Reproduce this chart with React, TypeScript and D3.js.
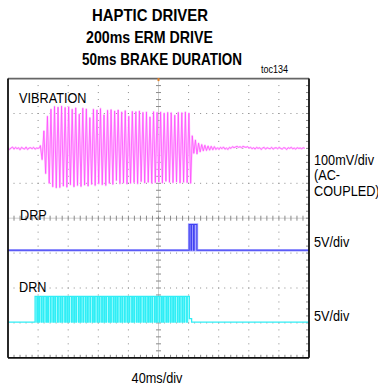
import React from 'react';
import * as d3 from 'd3';

const W = 378;
const H = 387;

// ---------- text ----------
const titleLines = ['HAPTIC DRIVER', '200ms ERM DRIVE', '50ms BRAKE DURATION'];
const docId = 'toc134';
const timeScaleLabel = '40ms/div';
const channelNames = ['VIBRATION', 'DRP', 'DRN'];
const channelScaleLabels = [['100mV/div', '(AC-', 'COUPLED)'], ['5V/div'], ['5V/div']];

// ---------- axes ----------
const timeDomainMs = [0, 400];
const xDivisions = 10;
const yDivisions = 8;
const minorPerDiv = 5;

// ---------- VIBRATION (mV, AC coupled, 100mV/div) ----------
const vibPreStepMs = 2;
const vibPreNoise = [2, -3, 1, 4, -2, 3, -1, 2, -4, 3, 0, -2, 4, -3, 1, 2, -1, 3, -2, 1, 0, 2];
const vibDriveStartMs = 43;
const vibDriveHalfPeriodMs = 2.35;
const vibDrivePeaks = [
  8, -32, 50, -72, 92, -100, 112, -110, 120, -113, 118, -112, 121, -108, 117, -111,
  119, -104, 112, -110, 116, -106, 98, -109, 115, -105, 113, -108, 88, -103, 112, -106,
  110, -101, 114, -104, 96, -106, 109, -100, 111, -103, 107, -92, 110, -101, 104, -99,
  108, -102, 92, -100, 106, -98, 105, -101, 107, -95, 103, -99, 104, -97, 90, -100,
  105, -98, 103, -96, 104, -99, 101, -94, 103, -97, 102, -98, 95, -96, 103, -99,
  102, -97, 104, -98, 101, -100,
];
const vibRingHalfPeriodMs = 2.1;
const vibRingPeaks = [36, -14, 24, -16, 15, -10, 11, -7, 9, -6, 7, -5, 6, -4, 5, -3];
const vibPostStepMs = 2;
const vibPostNoise = [
  2, -3, 3, -1, 4, -2, 1, -3, 3, 0, 5, 2, 4, 6, 3, 5, 2, 6, 4, 3,
  5, 1, 3, -1, 2, -2, 3, 0, 2, -3, 1, 3, -2, 2, 0, -1, 3, -2, 1, 2,
  -1, 3, 0, -2, 2, 1, -3, 2, 0, 3, -1, 1, -2, 2, 0, 1, -1, 2, 0,
];

// ---------- DRP (V, 5V/div) ----------
const drpLowV = 0.4;
const drpHighV = 4.1;
const drpPulsesMs = [[240.8, 243.2], [244.0, 246.6], [247.4, 251.0]];

// ---------- DRN (V, 5V/div) ----------
const drnLowV = 0.1;
const drnHighV = 3.8;
const drnOnMs = 36;
const drnOffMs = 241;
const drnShelfV = 0.6;
const drnShelfEndMs = 244;
const drnDipWidthMs = 0.7;
const drnDipsMs = [
  38.5, 41, 44.2, 47, 50.5, 53, 56.4, 59.8, 62.5, 66, 69.2, 72, 75.5, 78.3, 81, 84.6,
  87.5, 90.2, 93.8, 96.5, 99.7, 103, 105.8, 109, 112.4, 115, 118.5, 121.3, 124.6, 127.5,
  130.2, 133.8, 136.5, 139.9, 142.7, 145.5, 149, 151.8, 155, 158.3, 161, 164.5, 167.2,
  170.6, 173.4, 176.1, 179.7, 182.5, 185.8, 188.6, 191.4, 194.9, 197.6, 200.8, 203.9,
  206.5, 210, 212.7, 216, 219, 221.8, 225.2, 228, 231.3, 234.1, 237.5,
];

// channel vertical placement (divisions from screen center) and units/div
const vibOffsetDiv = 2;
const vibPerDiv = 100;
const drpOffsetDiv = -1;
const drpPerDiv = 5;
const drnOffsetDiv = -3;
const drnPerDiv = 5;

const FONT = '"Liberation Sans", Arial, sans-serif';
const NARROW = 0.82;

function NText(props: {
  x: number; y: number; size: number; bold?: boolean; anchor?: string; children: React.ReactNode;
}) {
  const { x, y, size, bold, anchor, children } = props;
  return (
    <text
      transform={`translate(${x},${y}) scale(${NARROW},1)`}
      fontFamily={FONT}
      fontSize={size}
      fontWeight={bold ? 'bold' : 'normal'}
      textAnchor={anchor || 'start'}
      fill="#000"
    >
      {children}
    </text>
  );
}

export default function App() {
  const plot = { left: 8, right: 309, top: 78.6, bottom: 357.8 };
  const x = d3.scaleLinear().domain(timeDomainMs).range([plot.left, plot.right]);
  const yDiv = d3.scaleLinear().domain([yDivisions / 2, -yDivisions / 2]).range([plot.top, plot.bottom]);
  const yVib = (v: number) => yDiv(vibOffsetDiv + v / vibPerDiv);
  const yDrp = (v: number) => yDiv(drpOffsetDiv + v / drpPerDiv);
  const yDrn = (v: number) => yDiv(drnOffsetDiv + v / drnPerDiv);

  // --- vibration points ---
  const vib: [number, number][] = [];
  vibPreNoise.forEach((v, i) => vib.push([i * vibPreStepMs, v]));
  vibDrivePeaks.forEach((v, i) => vib.push([vibDriveStartMs + i * vibDriveHalfPeriodMs, v]));
  const driveEnd = vibDriveStartMs + (vibDrivePeaks.length - 1) * vibDriveHalfPeriodMs;
  vibRingPeaks.forEach((v, i) => vib.push([driveEnd + (i + 1) * vibRingHalfPeriodMs, v]));
  const ringEnd = driveEnd + vibRingPeaks.length * vibRingHalfPeriodMs;
  vibPostNoise.forEach((v, i) => vib.push([ringEnd + (i + 1) * vibPostStepMs, v]));
  const vibLine = d3.line<[number, number]>().x((d) => x(d[0])).y((d) => yVib(d[1]));
  const vibD = vibLine(vib) || '';

  // --- DRP points ---
  const drp: [number, number][] = [[timeDomainMs[0], drpLowV]];
  drpPulsesMs.forEach(([a, b]) => {
    drp.push([a, drpLowV], [a, drpHighV], [b, drpHighV], [b, drpLowV]);
  });
  drp.push([timeDomainMs[1], drpLowV]);
  const drpLine = d3.line<[number, number]>().x((d) => x(d[0])).y((d) => yDrp(d[1]));
  const drpFill = d3
    .area<number>()
    .x((t) => x(t))
    .y0(yDrp(drpLowV))
    .y1(yDrp(drpHighV))([drpPulsesMs[0][0], drpPulsesMs[drpPulsesMs.length - 1][1]]);

  // --- DRN points ---
  const drn: [number, number][] = [[timeDomainMs[0], drnLowV], [drnOnMs, drnLowV], [drnOnMs, drnHighV]];
  drnDipsMs.forEach((d) => {
    drn.push([d, drnHighV], [d, drnLowV], [d + drnDipWidthMs, drnLowV], [d + drnDipWidthMs, drnHighV]);
  });
  drn.push([drnOffMs, drnHighV], [drnOffMs, drnShelfV], [drnShelfEndMs, drnShelfV], [drnShelfEndMs, drnLowV], [timeDomainMs[1], drnLowV]);
  const drnLine = d3.line<[number, number]>().x((d) => x(d[0])).y((d) => yDrn(d[1]));
  const drnFill = d3
    .area<number>()
    .x((t) => x(t))
    .y0(yDrn(drnLowV))
    .y1(yDrn(drnHighV))([drnOnMs, drnOffMs]);

  // --- grid ---
  const divW = (plot.right - plot.left) / xDivisions;
  const divH = (plot.bottom - plot.top) / yDivisions;
  const vLines = d3.range(1, xDivisions).filter((i) => i !== xDivisions / 2);
  const hLines = d3.range(1, yDivisions).filter((j) => j !== yDivisions / 2);
  const cx = plot.left + divW * (xDivisions / 2);
  const cy = plot.top + divH * (yDivisions / 2);
  const xMinor = d3.range(1, xDivisions * minorPerDiv).map((k) => plot.left + (k * divW) / minorPerDiv);
  const yMinor = d3.range(1, yDivisions * minorPerDiv).map((k) => plot.top + (k * divH) / minorPerDiv);

  return (
    <svg width={W} height={H} style={{ position: 'absolute', left: 0, top: 0, background: '#fff' }}>
      {/* titles */}
      <g fontFamily={FONT} fontWeight="bold" fill="#000" fontSize={16.5}>
        <text x={92} y={20.5} textLength={116} lengthAdjust="spacingAndGlyphs">{titleLines[0]}</text>
        <text x={86} y={42.5} textLength={127} lengthAdjust="spacingAndGlyphs">{titleLines[1]}</text>
        <text x={82} y={64.8} textLength={160} lengthAdjust="spacingAndGlyphs">{titleLines[2]}</text>
      </g>
      <NText x={261} y={73} size={11}>{docId}</NText>

      {/* grid dotted lines */}
      <g stroke="#8a8a8a" strokeWidth={1}>
        {vLines.map((i) => (
          <line key={'v' + i} x1={plot.left + i * divW} x2={plot.left + i * divW} y1={plot.top + divH / minorPerDiv - 0.5} y2={plot.bottom}
            strokeDasharray={`1 ${divH / minorPerDiv - 1}`} />
        ))}
        {hLines.map((j) => (
          <line key={'h' + j} y1={plot.top + j * divH} y2={plot.top + j * divH} x1={plot.left + divW / minorPerDiv - 0.5} x2={plot.right}
            strokeDasharray={`1 ${divW / minorPerDiv - 1}`} />
        ))}
      </g>
      {/* center cross with ticks */}
      <g stroke="#cfcfcf" strokeWidth={1}>
        <line x1={cx} x2={cx} y1={plot.top} y2={plot.bottom} />
        <line x1={plot.left} x2={plot.right} y1={cy} y2={cy} />
      </g>
      <g stroke="#8a8a8a" strokeWidth={1}>
        {yMinor.map((yy, k) => (
          <line key={'cy' + k} x1={cx - 2.5} x2={cx + 2.5} y1={yy} y2={yy} />
        ))}
        {xMinor.map((xx, k) => (
          <line key={'cx' + k} x1={xx} x2={xx} y1={cy - 2.5} y2={cy + 2.5} />
        ))}
        {xMinor.map((xx, k) => (
          <line key={'bx' + k} x1={xx} x2={xx} y1={plot.bottom - 3} y2={plot.bottom} />
        ))}
        {yMinor.map((yy, k) => (
          <line key={'ry' + k} x1={plot.right - 3} x2={plot.right} y1={yy} y2={yy} />
        ))}
      </g>

      {/* traces */}
      <path d={vibD} fill="none" stroke="#ffcaff" strokeWidth={2} strokeLinejoin="round" />
      <path d={vibD} fill="none" stroke="#ff44ff" strokeWidth={0.7} strokeLinejoin="round" />

      <path d={drpFill || ''} fill="#c8c8ff" />
      <path d={drpLine(drp) || ''} fill="none" stroke="#a8a8ff" strokeWidth={2.6} />
      <path d={drpLine(drp) || ''} fill="none" stroke="#4242f2" strokeWidth={1.1} />

      <path d={drnFill || ''} fill="#bcffff" />
      <path d={drnLine(drn) || ''} fill="none" stroke="#30eef6" strokeWidth={1.3} />

      {/* frame */}
      <line x1={plot.left} x2={plot.right} y1={plot.top} y2={plot.top} stroke="#666" strokeWidth={1.6} />
      <line x1={plot.left} x2={plot.left} y1={plot.top} y2={plot.bottom} stroke="#111" strokeWidth={1.8} />
      <line x1={plot.right} x2={plot.right} y1={plot.top} y2={plot.bottom} stroke="#111" strokeWidth={1.8} />
      <line x1={plot.left} x2={plot.right} y1={plot.bottom} y2={plot.bottom} stroke="#111" strokeWidth={1.8} />
      <rect x={cx - 1} y={plot.top - 0.5} width={2} height={3} fill="#e0822a" />

      {/* channel labels */}
      <NText x={19} y={103.3} size={15.5}>{channelNames[0]}</NText>
      <NText x={20} y={220} size={15.5}>{channelNames[1]}</NText>
      <NText x={19} y={292} size={15.5}>{channelNames[2]}</NText>
      {channelScaleLabels[0].map((s, i) => (
        <NText key={s} x={314} y={165 + i * 15.3} size={15.5}>{s}</NText>
      ))}
      <NText x={314} y={246.7} size={15.5}>{channelScaleLabels[1][0]}</NText>
      <NText x={314} y={320.7} size={15.5}>{channelScaleLabels[2][0]}</NText>
      <NText x={157} y={382.5} size={15.5} anchor="middle">{timeScaleLabel}</NText>
    </svg>
  );
}
